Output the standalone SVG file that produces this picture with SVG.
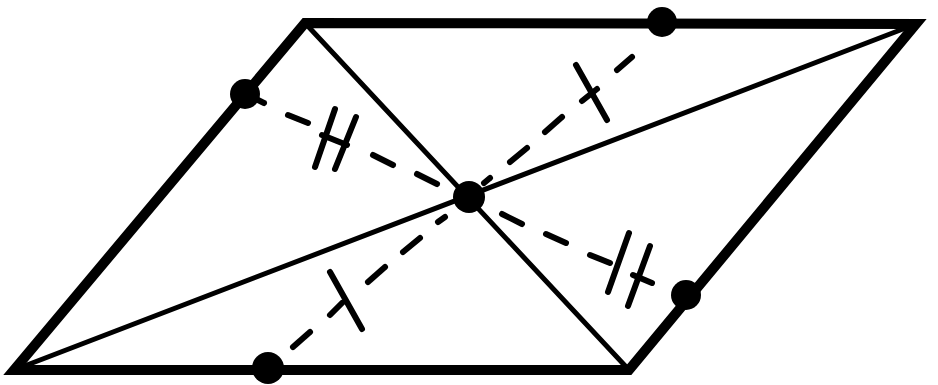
<svg xmlns="http://www.w3.org/2000/svg" width="938" height="385" viewBox="0 0 938 385">
<style>
.edge{fill:none;stroke:#000;stroke-width:10;stroke-linejoin:miter;stroke-miterlimit:20}
.thin{fill:none;stroke:#000;stroke-width:5;stroke-linecap:round}
.dash{fill:none;stroke:#000;stroke-width:6;stroke-linecap:round}
.dot{fill:#000}
</style>
<rect width="938" height="385" fill="#fff"/>
<g id="parallelogram">
<polygon class="edge" points="305,23 916,24 629,370 14,370"/>
</g>
<g id="connectors">
<line class="thin" x1="305" y1="23" x2="629" y2="370"/>
<line class="thin" x1="14" y1="370" x2="916" y2="24"/>
<g id="seg-left">
<line class="dash" x1="437" y1="184" x2="417" y2="174"/>
<line class="dash" x1="393" y1="165" x2="373" y2="155"/>
<line class="dash" x1="335" y1="109" x2="315" y2="167"/>
<line class="dash" x1="356" y1="117" x2="335" y2="169"/>
<line class="dash" x1="322" y1="135" x2="347" y2="145"/>
<line class="dash" x1="308" y1="123" x2="288" y2="115"/>
<line class="dash" x1="258" y1="100" x2="264" y2="103"/>
</g>
<g id="seg-right">
<line class="dash" x1="502" y1="214" x2="522" y2="224"/>
<line class="dash" x1="546" y1="234" x2="566" y2="243"/>
<line class="dash" x1="590" y1="255" x2="610" y2="263"/>
<line class="dash" x1="629" y1="233" x2="608" y2="292"/>
<line class="dash" x1="650" y1="246" x2="628" y2="306"/>
<line class="dash" x1="633" y1="275" x2="652" y2="283"/>
</g>
<g id="seg-top">
<line class="dash" x1="484" y1="183" x2="490" y2="178"/>
<line class="dash" x1="510" y1="162" x2="527" y2="148"/>
<line class="dash" x1="545" y1="132" x2="562" y2="117"/>
<line class="dash" x1="576" y1="65" x2="607" y2="120"/>
<line class="dash" x1="582" y1="101" x2="597" y2="89"/>
<line class="dash" x1="617" y1="70" x2="632" y2="57"/>
</g>
<g id="seg-bottom">
<line class="dash" x1="445" y1="217" x2="438" y2="222"/>
<line class="dash" x1="420" y1="238" x2="403" y2="252"/>
<line class="dash" x1="385" y1="267" x2="368" y2="282"/>
<line class="dash" x1="330" y1="272" x2="362" y2="329"/>
<line class="dash" x1="330" y1="315" x2="342" y2="303"/>
<line class="dash" x1="310" y1="332" x2="293" y2="347"/>
</g>
</g>
<g id="center"><circle class="dot" cx="469" cy="197" r="16"/></g>
<g id="point-left"><circle class="dot" cx="245" cy="94" r="15"/></g>
<g id="point-top"><circle class="dot" cx="662" cy="22" r="15"/></g>
<g id="point-right"><circle class="dot" cx="686" cy="295" r="15"/></g>
<g id="point-bottom"><circle class="dot" cx="268" cy="368" r="16"/></g>
</svg>
